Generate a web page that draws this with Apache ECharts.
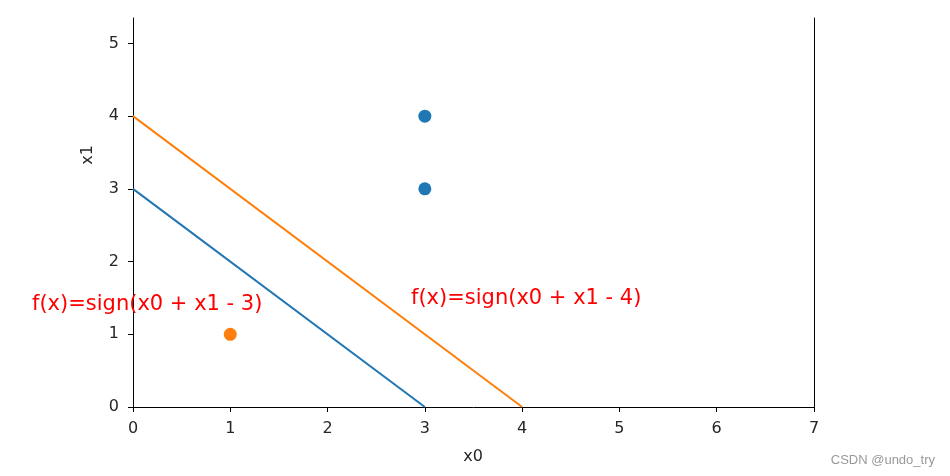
<!DOCTYPE html>
<html>
<head>
<meta charset="utf-8">
<script src="https://cdn.jsdelivr.net/npm/echarts@6/dist/echarts.min.js"></script>
<style>html,body{margin:0;padding:0;background:#fff}#c{width:950px;height:476px}</style>
</head>
<body>
<div id="c"></div>
<script>
const xTicks = [0, 1, 2, 3, 4, 5, 6, 7];
const yTicks = [0, 1, 2, 3, 4, 5];
const positivePoints = [[3, 3], [3, 4]];
const negativePoints = [[1, 1]];
const line1 = [[0, 3], [3, 0]];
const line2 = [[0, 4], [4, 0]];
const label1 = 'f(x)=sign(x0 + x1 - 3)';
const label2 = 'f(x)=sign(x0 + x1 - 4)';
const xName = 'x0';
const yName = 'x1';
const watermark = 'CSDN @undo_try';

const chart = echarts.init(document.getElementById('c'), null, {renderer: 'canvas'});
const axisFont = {fontFamily: 'DejaVu Sans', fontSize: 16, color: '#262626'};
const blue = '#1f77b4', orange = '#ff7f0e';
chart.setOption({
  animation: false,
  backgroundColor: '#fff',
  grid: {left: 133, top: 18, width: 681, height: 389},
  xAxis: {
    type: 'value', min: 0, max: 7, interval: 1,
    axisLine: {show: true, onZero: false, lineStyle: {color: '#000', width: 1}},
    axisTick: {show: true, length: 5, lineStyle: {color: '#000'}, customValues: xTicks},
    axisLabel: Object.assign({margin: 14, customValues: xTicks}, axisFont),
    splitLine: {show: false}
  },
  yAxis: [{
    type: 'value', min: 0, max: 5.35,
    axisLine: {show: true, onZero: false, lineStyle: {color: '#000', width: 1}},
    axisTick: {show: true, length: 5, lineStyle: {color: '#000'}, customValues: yTicks},
    axisLabel: Object.assign({margin: 14, customValues: yTicks}, axisFont),
    splitLine: {show: false}
  }, {
    type: 'value', min: 0, max: 5.35, position: 'right',
    axisLine: {show: true, onZero: false, lineStyle: {color: '#000', width: 1}},
    axisTick: {show: false}, axisLabel: {show: false}, splitLine: {show: false}
  }],
  series: [
    {type: 'line', data: line1, showSymbol: false, symbol: 'none', lineStyle: {color: blue, width: 2}, z: 2},
    {type: 'line', data: line2, showSymbol: false, symbol: 'none', lineStyle: {color: orange, width: 2}, z: 2},
    {type: 'scatter', data: positivePoints, symbolSize: 13, itemStyle: {color: blue, opacity: 1}, z: 3},
    {type: 'scatter', data: negativePoints, symbolSize: 13, itemStyle: {color: orange, opacity: 1}, z: 3}
  ],
  graphic: [
    {type: 'text', x: 32, y: 305, z: 10, style: {text: label1, fill: '#ff0000', font: '21px "DejaVu Sans", sans-serif', verticalAlign: 'middle'}},
    {type: 'text', x: 411, y: 299, z: 10, style: {text: label2, fill: '#ff0000', font: '21px "DejaVu Sans", sans-serif', verticalAlign: 'middle'}},
    {type: 'text', x: 473, y: 457, style: {text: xName, fill: '#262626', font: '16px "DejaVu Sans"', align: 'center', verticalAlign: 'middle'}},
    {type: 'text', x: 88, y: 155, rotation: Math.PI / 2, style: {text: yName, fill: '#262626', font: '16px "DejaVu Sans"', align: 'center', verticalAlign: 'middle'}},
    {type: 'text', x: 935, y: 460, style: {text: watermark, fill: '#999', font: '13px "Liberation Sans", Arial, sans-serif', align: 'right', verticalAlign: 'middle'}}
  ]
});
</script>
</body>
</html>
